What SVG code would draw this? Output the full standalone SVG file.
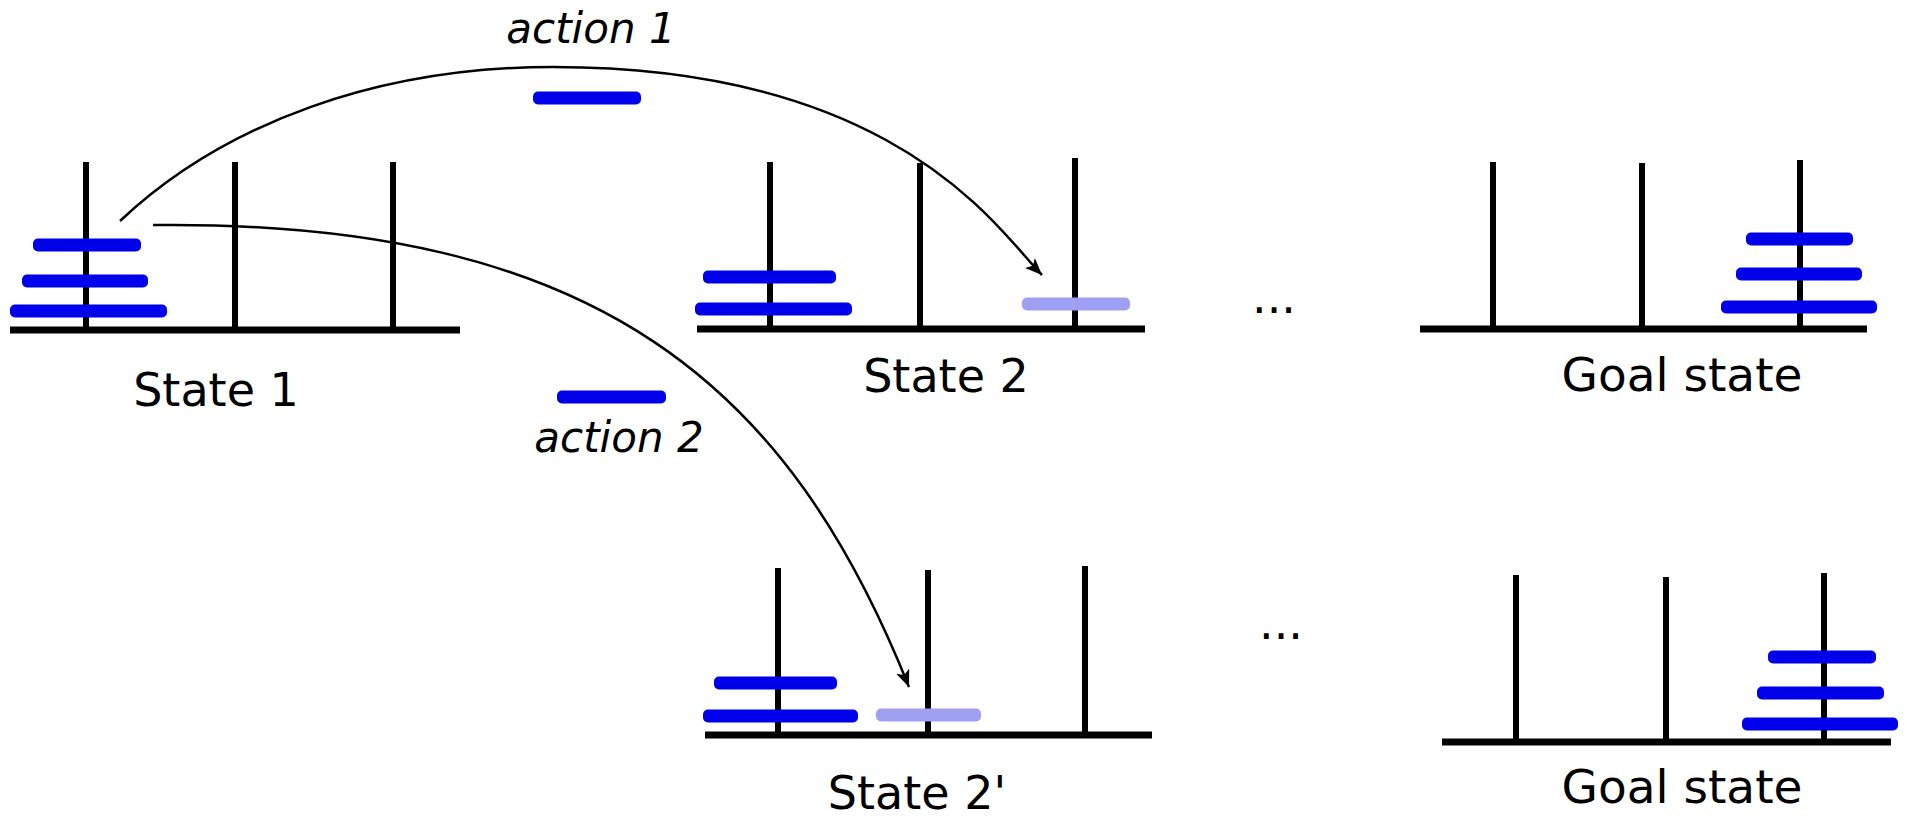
<svg xmlns="http://www.w3.org/2000/svg" width="1907" height="820" viewBox="0 0 1907 820">
<style>
.peg{stroke:#000;stroke-width:6;fill:none}
.base{stroke:#000;stroke-width:7;fill:none}
.disk{fill:#0000ea}
.ghost{fill:#a0a0f2}
.lbl{font-family:"DejaVu Sans",sans-serif;font-size:46px;fill:#000;text-anchor:middle}
.goal{font-size:47px}
.act{font-family:"DejaVu Sans",sans-serif;font-size:42px;font-style:italic;fill:#000;text-anchor:middle}
.arc{stroke:#000;stroke-width:2.5;fill:none;marker-end:url(#ah)}
</style>
<defs>
<marker id="ah" markerUnits="userSpaceOnUse" markerWidth="20" markerHeight="16" refX="17" refY="7" orient="auto">
<path d="M0,0 L17,7 L0,14 L4,7 z" fill="#000"/>
</marker>
</defs>
<rect width="1907" height="820" fill="#fff"/>

<g id="state1">
<line class="base" x1="10" y1="330" x2="460" y2="330"/>
<line class="peg" x1="86" y1="162" x2="86" y2="330"/>
<line class="peg" x1="235" y1="162" x2="235" y2="330"/>
<line class="peg" x1="393" y1="162" x2="393" y2="330"/>
<rect class="disk" x="33" y="238.5" width="108" height="13" rx="5"/>
<rect class="disk" x="22" y="274.5" width="126" height="13" rx="5"/>
<rect class="disk" x="10" y="304.5" width="157" height="13" rx="5"/>
<text class="lbl" x="216" y="406">State 1</text>
</g>

<g id="state2">
<line class="base" x1="697" y1="329" x2="1145" y2="329"/>
<line class="peg" x1="770" y1="162" x2="770" y2="329"/>
<line class="peg" x1="920" y1="163" x2="920" y2="329"/>
<line class="peg" x1="1075" y1="158" x2="1075" y2="329"/>
<rect class="disk" x="703" y="270.5" width="133" height="13" rx="5"/>
<rect class="disk" x="695" y="302.5" width="157" height="13" rx="5"/>
<rect class="ghost" x="1022" y="297.5" width="108" height="13" rx="5"/>
<text class="lbl" x="946" y="392">State 2</text>
</g>

<g id="goal1">
<line class="base" x1="1420" y1="329" x2="1867" y2="329"/>
<line class="peg" x1="1493" y1="162" x2="1493" y2="329"/>
<line class="peg" x1="1642" y1="163" x2="1642" y2="329"/>
<line class="peg" x1="1800" y1="160" x2="1800" y2="329"/>
<rect class="disk" x="1746" y="232.5" width="107" height="13" rx="5"/>
<rect class="disk" x="1736" y="267.5" width="126" height="13" rx="5"/>
<rect class="disk" x="1721" y="300.5" width="156" height="13" rx="5"/>
<text class="lbl goal" x="1682" y="391">Goal state</text>
</g>

<g id="state2p">
<line class="base" x1="705" y1="735" x2="1152" y2="735"/>
<line class="peg" x1="778" y1="568" x2="778" y2="735"/>
<line class="peg" x1="928" y1="570" x2="928" y2="735"/>
<line class="peg" x1="1085" y1="566" x2="1085" y2="735"/>
<rect class="disk" x="714" y="676.5" width="123" height="13" rx="5"/>
<rect class="disk" x="703" y="709.5" width="155" height="13" rx="5"/>
<rect class="ghost" x="876" y="708.5" width="105" height="13" rx="5"/>
<text class="lbl" x="917" y="809">State 2'</text>
</g>

<g id="goal2">
<line class="base" x1="1442" y1="742" x2="1891" y2="742"/>
<line class="peg" x1="1516" y1="575" x2="1516" y2="742"/>
<line class="peg" x1="1666" y1="577" x2="1666" y2="742"/>
<line class="peg" x1="1824" y1="573" x2="1824" y2="742"/>
<rect class="disk" x="1768" y="650.5" width="108" height="13" rx="5"/>
<rect class="disk" x="1757" y="686.5" width="127" height="13" rx="5"/>
<rect class="disk" x="1742" y="717.5" width="156" height="13" rx="5"/>
<text class="lbl goal" x="1682" y="803">Goal state</text>
</g>

<g id="dots1"><text class="lbl" x="1274" y="313">...</text></g>
<g id="dots2"><text class="lbl" x="1281" y="639">...</text></g>

<g id="action1">
<rect class="disk" x="533" y="91.5" width="108" height="13" rx="5"/>
<text class="act" x="591" y="43">action 1</text>
</g>
<g id="action2">
<rect class="disk" x="557" y="390.5" width="109" height="13" rx="5"/>
<text class="act" x="619" y="452">action 2</text>
</g>

<g id="connectors">
<path class="arc" d="M120,221 C225,122 380,67 553,67 C900,67 1000,233 1042,275"/>
<path class="arc" d="M153,225 C600,220 789,387 909,687"/>
</g>
</svg>
